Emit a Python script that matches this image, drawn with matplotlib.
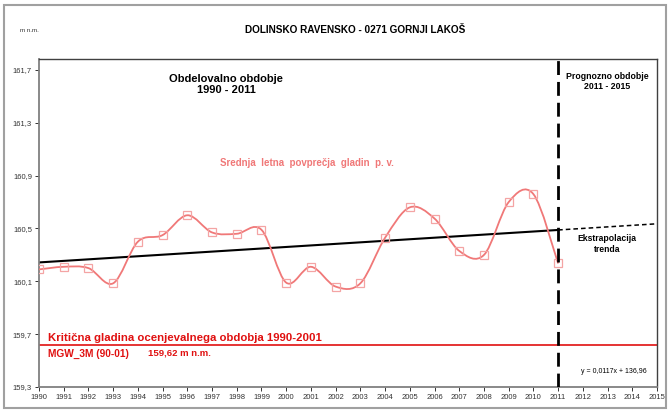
import numpy as np
import matplotlib.pyplot as plt
from matplotlib.path import Path
from matplotlib.patches import PathPatch, Rectangle

plt.rcParams['font.family'] = ['Liberation Sans', 'DejaVu Sans']

# data
years = [1990, 1991, 1992, 1993, 1994, 1995, 1996, 1997, 1998, 1999, 2000,
         2001, 2002, 2003, 2004, 2005, 2006, 2007, 2008, 2009, 2010, 2011]
levels = [160.19, 160.21, 160.20, 160.085, 160.40, 160.45, 160.60, 160.47,
          160.46, 160.49, 160.09, 160.21, 160.06, 160.085, 160.43, 160.66,
          160.575, 160.33, 160.30, 160.70, 160.76, 160.235]
trend_k = 0.0117
trend_n = 136.96
trend_end = 2015
critical = 159.62
ytick_vals = [159.3, 159.7, 160.1, 160.5, 160.9, 161.3, 161.7]
ytick_labels = ['159,3', '159,7', '160,1', '160,5', '160,9', '161,3', '161,7']
xtick_vals = list(range(1990, 2016))

salmon = '#f07878'
red = '#e01010'

fig = plt.figure(figsize=(6.69, 4.12), dpi=100)
ax = fig.add_axes([0.0583, 0.0607, 0.9238, 0.7961])
ax.set_xlim(1990, 2015)
ax.set_ylim(159.3, 161.783)

# smoothed series (bezier through the points)
x = np.array(years, dtype=float)
y = np.array(levels)
pts = np.column_stack([x, y])
ext = np.vstack([pts[0], pts, pts[-1]])
verts = [tuple(pts[0])]
codes = [Path.MOVETO]
for i in range(len(pts) - 1):
    p0, p1, p2, p3 = ext[i], ext[i + 1], ext[i + 2], ext[i + 3]
    c1 = p1 + (p2 - p0) / 6.0
    c2 = p2 - (p3 - p1) / 6.0
    verts += [tuple(c1), tuple(c2), tuple(p2)]
    codes += [Path.CURVE4] * 3
ax.add_patch(PathPatch(Path(verts, codes), fill=False, edgecolor=salmon, lw=1.3, zorder=3))
ax.plot(years, levels, ls='none', marker='s', ms=6, mfc='none', mec='#f4a4a4', mew=0.9, zorder=4)

# trend
tx = np.array([years[0], years[-1]])
ax.plot(tx, trend_k * tx + trend_n, color='black', lw=1.5, zorder=2)
ex = np.array([years[-1], trend_end])
ax.plot(ex, trend_k * ex + trend_n, color='black', lw=1.1, ls=(0, (3, 2)), zorder=2)

# forecast split
ax.axvline(years[-1], color='black', lw=2.0, ls=(0, (5, 2.5)), zorder=5)

# critical level
ax.axhline(critical, color=red, lw=1.2, zorder=2)

ax.set_yticks(ytick_vals)
ax.set_yticklabels(ytick_labels)
ax.set_xticks(xtick_vals)
ax.set_xticklabels([str(v) for v in xtick_vals])
ax.tick_params(axis='both', labelsize=5.5, colors='#333333', length=3, width=0.7, pad=2)

for s in ['left', 'bottom']:
    ax.spines[s].set_color('#808080')
    ax.spines[s].set_linewidth(1.3)
for s in ['top', 'right']:
    ax.spines[s].set_color('#404040')
    ax.spines[s].set_linewidth(1.0)

# texts
fig.text(0.5306, 0.927, 'DOLINSKO RAVENSKO - 0271 GORNJI LAKOŠ', ha='center', va='center',
         fontsize=7.2, fontweight='bold')
fig.text(0.03, 0.927, 'm n.m.', ha='left', va='center', fontsize=4.5, color='#333333')

ax.text(1997.56, 161.59, 'Obdelovalno obdobje\n1990 - 2011', ha='center', va='center',
        fontsize=8, fontweight='bold', linespacing=1.2)
ax.text(2000.85, 160.996, 'Srednja  letna  povprečja  gladin  p. v.', ha='center', va='center',
        fontsize=7, fontweight='bold', color=salmon)
ax.text(2012.98, 161.613, 'Prognozno obdobje\n2011 - 2015', ha='center', va='center',
        fontsize=6.3, fontweight='bold', linespacing=1.15)
ax.text(2012.98, 160.383, 'Ekstrapolacija\ntrenda', ha='center', va='center',
        fontsize=6.2, fontweight='bold', linespacing=1.3)
ax.text(1990.38, 159.648, 'Kritična gladina ocenjevalnega obdobja 1990-2001', ha='left',
        va='baseline', fontsize=8.2, fontweight='bold', color=red)
ax.text(1990.38, 159.527, 'MGW_3M (90-01)', ha='left', va='baseline',
        fontsize=7.3, fontweight='bold', color=red)
ax.text(1994.4, 159.542, '159,62 m n.m.', ha='left', va='baseline',
        fontsize=6.8, fontweight='bold', color=red)
ax.text(2013.26, 159.414, 'y = 0,0117x + 136,96', ha='center', va='center', fontsize=5)

fig.patches.append(Rectangle((4 / 669, 4 / 412), 662 / 669, 403 / 412, transform=fig.transFigure,
                             fill=False, edgecolor='#a0a0a0', lw=1.5))

plt.savefig('out.png', dpi=100)
